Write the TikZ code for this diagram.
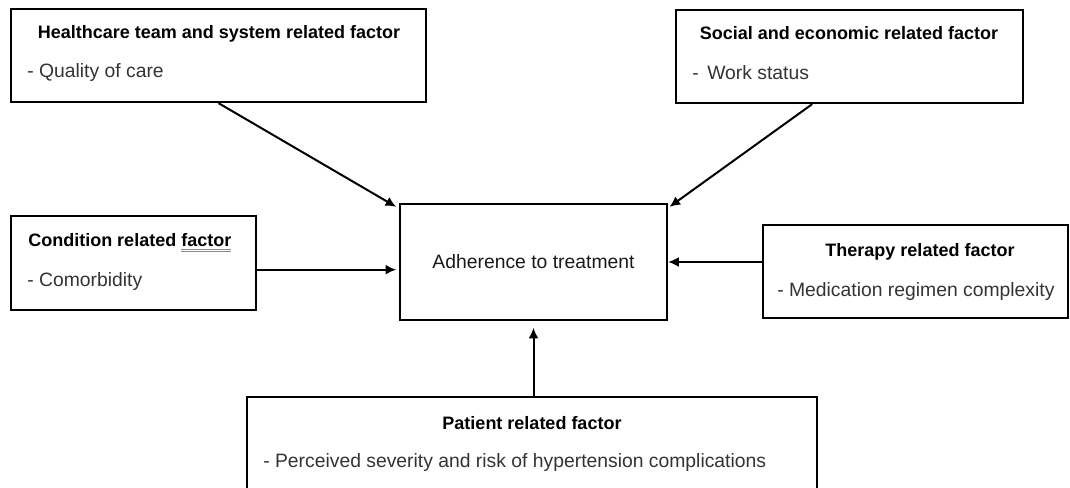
\documentclass[tikz,border=0pt]{standalone}
\usepackage{fontspec}
\setmainfont{Liberation Sans}
\usepackage{tikz}
\usetikzlibrary{arrows.meta,positioning}
\newcommand{\dblul}[1]{{\color{black!45}\underline{\underline{\color{black}#1}}}}
\tikzset{
factorbox/.style = {draw=black, line width=1.7pt, inner sep=0pt, align=center},% box of one factor
title/.style = {font=\fontsize{13.5}{16}\selectfont\bfseries, inner sep=0pt},% bold heading
item/.style = {font=\fontsize{14.5}{17}\selectfont, text=black!80, inner sep=0pt, anchor=west},% list line
arrow/.style = {-{Latex[length=8pt,width=7.5pt]}, line width=1.5pt}
}
\begin{document}
\begin{tikzpicture}[x=0.75pt,y=-0.75pt]
  \useasboundingbox (0,0) rectangle (1070,488);
  % boxes
  \node[factorbox, minimum width=311.25pt, minimum height=69.75pt] (care) at (218.5,55.5) {};
  \node[factorbox, minimum width=260.25pt, minimum height=69.75pt] (social) at (849.5,56.5) {};
  \node[factorbox, minimum width=183.75pt, minimum height=70.5pt] (cond) at (133.5,263) {};
  \node[factorbox, minimum width=200.25pt, minimum height=87pt,
        font=\fontsize{14.5}{17}\selectfont, text=black!90] (adh) at (533.5,262) {Adherence to treatment};
  \node[factorbox, minimum width=228.75pt, minimum height=69.75pt] (ther) at (915.5,271.5) {};
  \node[factorbox, minimum width=427.5pt, minimum height=81pt] (pat) at (532,451) {};
  % texts
  \node[title] (careT) at (219,34) {Healthcare team and system related factor};
  \node[item] (careI) at (27,73) {- Quality of care};
  \node[title] (socialT) at (849,33) {Social and economic related factor};
  \node[item] (socialI) at (692,73) {-\ \,Work status};
  \node[title, anchor=west] (condT) at (28,243) {Condition related \dblul{factor}};
  \node[item] (condI) at (27,282) {- Comorbidity};
  \node[title] (therT) at (920,252) {Therapy related factor};
  \node[item] (therI) at (777,292) {- Medication regimen complexity};
  \node[title] (patT) at (532,423) {Patient related factor};
  \node[item] (patI) at (263,462) {- Perceived severity and risk of hypertension complications};
  % arrows
  \draw[arrow] (care.south) -- ([shift={(-2pt,-3pt)}]adh.north west);
  \draw[arrow] ([xshift=-28pt]social.south) -- ([shift={(1pt,-3pt)}]adh.north east);
  \draw[arrow, shorten >=2pt] ([yshift=-5pt]cond.east) -- ([yshift=-5pt]cond.east -| adh.west);
  \draw[arrow] (ther.west |- adh.east) -- (adh.east);
  \draw[arrow] (adh.south |- pat.north) -- ([yshift=-5pt]adh.south);
\end{tikzpicture}
\end{document}
